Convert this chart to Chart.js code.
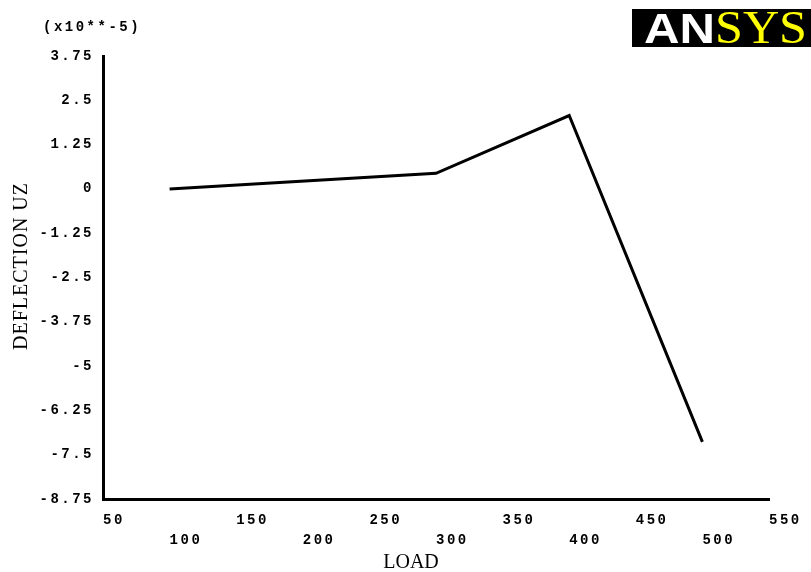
<!DOCTYPE html>
<html>
<head>
<meta charset="utf-8">
<script src="https://cdn.jsdelivr.net/npm/chart.js@4.4.1/dist/chart.umd.min.js"></script>
<style>
  html, body { margin: 0; padding: 0; background: #fff; }
</style>
</head>
<body>
<canvas id="grafica" width="811" height="572"></canvas>
<script>
'use strict'

// DATOS
const cargas = [100, 300, 400, 500];
const flechas = [0.0, 0.44, 2.07, -7.14];
const ticksX = [50, 100, 150, 200, 250, 300, 350, 400, 450, 500, 550];
const ticksY = [3.75, 2.5, 1.25, 0, -1.25, -2.5, -3.75, -5, -6.25, -7.5, -8.75];

const fuenteTicks = { family: '"Liberation Mono", monospace', size: 14, weight: 'bold', lineHeight: '20px' };

// escribe un texto ajustado a un ancho dado
function textoAjustado(ctx, texto, x, y, ancho) {
  const w = ctx.measureText(texto).width;
  ctx.save();
  ctx.translate(x, y);
  ctx.scale(ancho / w, 1);
  ctx.fillText(texto, 0, 0);
  ctx.restore();
}

// textos sueltos y logotipo
const textosAnsys = {
  id: 'textosAnsys',
  beforeDraw(chart) {
    chart.ctx.letterSpacing = '2.5px';
  },
  afterDraw(chart) {
    const ctx = chart.ctx;
    ctx.save();
    ctx.fillStyle = '#000';
    ctx.letterSpacing = '2.5px';
    ctx.font = 'bold 14px "Liberation Mono"';
    ctx.textBaseline = 'middle';
    ctx.fillText('(x10**-5)', 43, 27);

    ctx.letterSpacing = '0px';
    ctx.font = '20px "Liberation Serif"';
    ctx.textAlign = 'center';
    ctx.fillText('LOAD', 411, 563);
    ctx.translate(22, 266);
    ctx.rotate(-Math.PI / 2);
    ctx.letterSpacing = '1px';
    ctx.fillText('DEFLECTION UZ', 0, 0);
    ctx.restore();

    ctx.save();
    ctx.letterSpacing = '0px';
    ctx.fillStyle = '#000';
    ctx.fillRect(632, 9, 179, 38);
    ctx.textBaseline = 'alphabetic';
    ctx.fillStyle = '#fff';
    ctx.font = 'bold 43px "Liberation Sans"';
    textoAjustado(ctx, 'AN', 644, 43, 71);
    ctx.fillStyle = '#ffff00';
    ctx.font = '47px "Liberation Serif"';
    textoAjustado(ctx, 'SYS', 715, 43, 92);
    ctx.restore();
  }
};

function crearGrafica() {
  const ctx = document.getElementById('grafica').getContext('2d');
  const puntos = cargas.map((c, i) => ({ x: c, y: flechas[i] }));

  new Chart(ctx, {
    type: 'line',
    data: {
      datasets: [{
        data: puntos,
        borderColor: '#000',
        borderWidth: 3,
        pointRadius: 0,
        tension: 0,
        fill: false
      }]
    },
    options: {
      responsive: false,
      animation: false,
      devicePixelRatio: 1,
      layout: { padding: { top: 56, right: 42, left: 0, bottom: 0 } },
      scales: {
        x: {
          type: 'linear',
          min: 50,
          max: 550,
          afterBuildTicks: s => { s.ticks = ticksX.map(v => ({ value: v })); },
          afterFit: s => { s.height = 73; },
          grid: { display: false },
          border: { display: true, color: '#000', width: 3 },
          ticks: {
            align: 'start',
            padding: 3,
            color: '#000',
            font: fuenteTicks,
            maxRotation: 0,
            autoSkip: false,
            callback: (v, i) => i % 2 === 0 ? String(v) : ['', String(v)]
          }
        },
        y: {
          min: -8.75,
          max: 3.75,
          afterBuildTicks: s => { s.ticks = ticksY.map(v => ({ value: v })); },
          afterFit: s => { s.width = 103; },
          grid: { display: false },
          border: { display: true, color: '#000', width: 3 },
          ticks: {
            padding: 1,
            color: '#000',
            font: fuenteTicks,
            autoSkip: false,
            callback: v => String(v)
          }
        }
      },
      plugins: {
        legend: { display: false },
        tooltip: { enabled: false }
      }
    },
    plugins: [textosAnsys]
  });
}

crearGrafica();
</script>
</body>
</html>
